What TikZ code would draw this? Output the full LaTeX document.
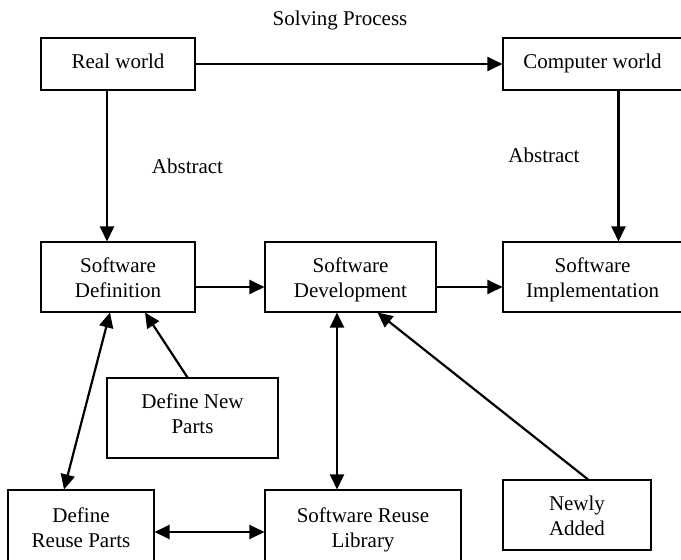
\documentclass[tikz,border=0pt]{standalone}
\usepackage{fontspec}
\setmainfont{Liberation Serif}
\usetikzlibrary{arrows.meta}
\newcommand\stA{\rule[-5pt]{0pt}{25pt}}
\newcommand\stB{\rule[-10pt]{0pt}{25pt}}
\newcommand\stC{\rule[-6.5pt]{0pt}{21pt}}
\begin{document}
\begin{tikzpicture}[x=1pt,y=-1pt,
  box/.style={draw,line width=1.1pt,inner sep=0pt,align=center,font=\fontsize{21}{25}\selectfont},
  lbl/.style={inner sep=0pt,font=\fontsize{21}{25}\selectfont},
  conn/.style={line width=2.2pt,-{Triangle[length=15pt,width=14pt]}},
  bconn/.style={line width=2.2pt,{Triangle[length=15pt,width=14pt]}-{Triangle[length=15pt,width=14pt]}}]
\useasboundingbox (0,0) rectangle (681,560);
% boxes
\node[box,minimum width=154pt,minimum height=52pt] (rw) at (118,64) {\stC Real world};
\node[box,minimum width=179pt,minimum height=52pt] (cw) at (592.5,64) {\stC Computer world};
\node[box,minimum width=154pt,minimum height=70pt] (sd) at (118,277) {\stA Software\\\stA Definition};
\node[box,minimum width=171pt,minimum height=70pt] (dev) at (350.5,277) {\stA Software\\\stA Development};
\node[box,minimum width=179pt,minimum height=70pt] (imp) at (592.5,277) {\stA Software\\\stA Implementation};
\node[box,minimum width=171pt,minimum height=80pt] (dnp) at (192.5,418) {\stB Define New\\\stB Parts};
\node[box,minimum width=146pt,minimum height=74pt] (drp) at (81,527) {\stA Define\\\stA Reuse Parts};
\node[box,minimum width=196pt,minimum height=74pt] (lib) at (363,527) {\stA Software Reuse\\\stA Library};
\node[box,minimum width=148pt,minimum height=70pt] (na) at (577,515) {\stA Newly\\\stA Added};
% labels
\node[lbl] (sp) at (340,20) {Solving Process};
\node[lbl] (ab1) at (187.5,166) {Abstract};
\node[lbl] (ab2) at (544,155) {Abstract};
% connectors
\draw[conn] (rw.east) -- (cw.west);
\draw[conn] ([xshift=-11pt]rw.south) -- ([xshift=-11pt]sd.north);
\draw[conn] ([xshift=26pt]cw.south) -- ([xshift=26pt]imp.north);
\draw[conn] ([yshift=-10pt]sd.east) -- ([yshift=-10pt]dev.west);
\draw[conn] ([yshift=-10pt]dev.east) -- ([yshift=-10pt]imp.west);
\draw[bconn] ([xshift=-8pt]sd.south) -- ([xshift=-17pt]drp.north);
\draw[conn] ([xshift=-5pt]dnp.north) -- ([xshift=27pt]sd.south);
\draw[bconn] ([xshift=-13.5pt]dev.south) -- ([xshift=-26pt]lib.north);
\draw[conn] ([xshift=11pt]na.north) -- ([xshift=27pt]dev.south);
\draw[bconn] ([yshift=-5pt]drp.east) -- ([yshift=-5pt]lib.west);
\end{tikzpicture}
\end{document}
